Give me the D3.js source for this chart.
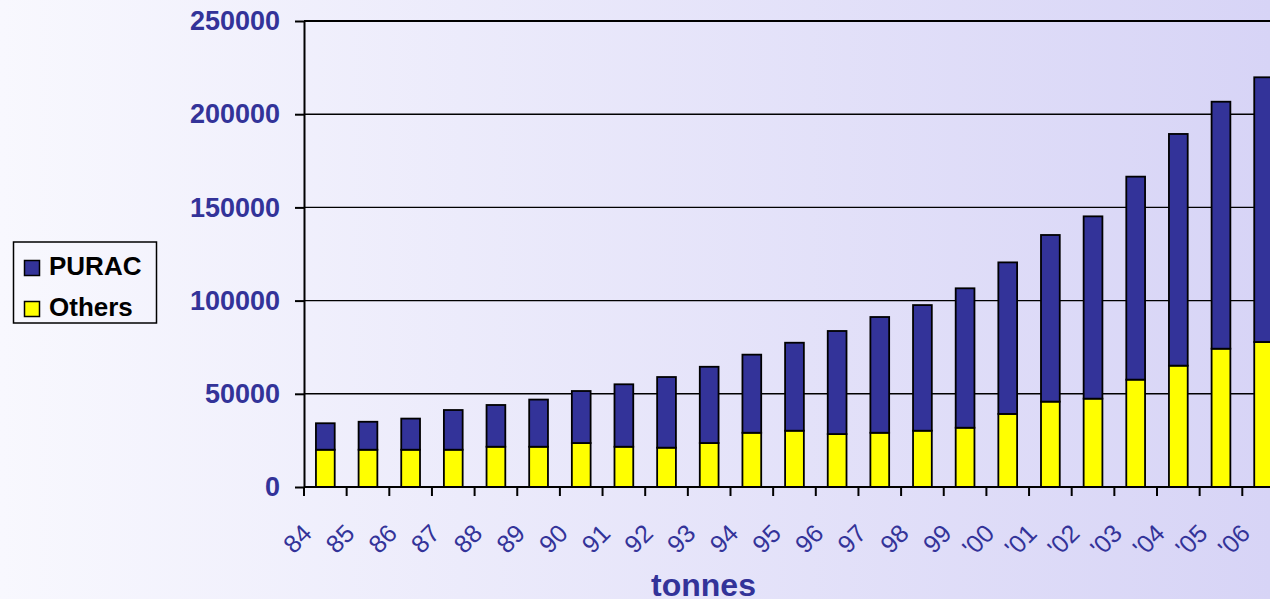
<!DOCTYPE html>
<html>
<head>
<meta charset="utf-8">
<script src="https://cdn.jsdelivr.net/npm/d3@7"></script>
<style>
  html, body { margin: 0; padding: 0; overflow: hidden; }
  svg { display: block; font-family: "Liberation Sans", Arial, sans-serif; }
</style>
</head>
<body>
<svg id="chart" width="1270" height="599"></svg>
<script>
// ---- data ----
const categories = ["84","85","86","87","88","89","90","91","92","93","94","95","96","97","98","99","'00","'01","'02","'03","'04","'05","'06"];
const others = [20000,20000,20000,20000,21600,21600,23600,21600,21100,23600,29100,30200,28400,29100,30200,31800,39200,45800,47400,57600,65100,74200,77800];
const purac  = [14200,15000,16700,21300,22400,25300,27900,33500,37900,40900,41900,47200,55300,62100,67400,74800,81300,89400,97800,108900,124300,132500,142000];
const yTicks = [0,50000,100000,150000,200000,250000];
const seriesNames = ["PURAC","Others"];
const seriesColors = {PURAC: "#333399", Others: "#FFFF00"};
const axisTitle = "tonnes";

// ---- layout ----
const W = 1270, H = 599;
const plotLeft = 304, plotTop = 21, plotBottom = 487;
const step = 42.65;
const plotRight = plotLeft + step * categories.length;
const textColor = "#333399";

const svg = d3.select("#chart");

// background gradient
const defs = svg.append("defs");
const grad = defs.append("linearGradient").attr("id", "bg").attr("x1", 0).attr("x2", 1).attr("y1", 0).attr("y2", 0);
grad.append("stop").attr("offset", 0).attr("stop-color", "#f8f8fe");
grad.append("stop").attr("offset", 1).attr("stop-color", "#d7d4f6");
svg.append("rect").attr("width", W).attr("height", H).attr("fill", "url(#bg)");

const x = d3.scaleBand().domain(categories).range([plotLeft, plotRight]).paddingInner(0).paddingOuter(0);
const y = d3.scaleLinear().domain([0, 250000]).range([plotBottom, plotTop]);

// gridlines
svg.append("g").selectAll("line").data(yTicks.filter(d => d > 0)).join("line")
  .attr("x1", plotLeft).attr("x2", plotRight)
  .attr("y1", d => y(d)).attr("y2", d => y(d))
  .attr("stroke", "#000").attr("stroke-width", d => d === 250000 ? 2 : 1.4);

// stacked bars
const rows = categories.map((c, i) => ({cat: c, Others: others[i], PURAC: purac[i]}));
const stack = d3.stack().keys(["Others", "PURAC"]);
const stacked = stack(rows);
const barW = x.bandwidth() * 0.44;

svg.append("g").selectAll("g").data(stacked).join("g")
  .attr("fill", d => seriesColors[d.key])
  .selectAll("rect").data(d => d).join("rect")
  .attr("x", d => x(d.data.cat) + (x.bandwidth() - barW) / 2)
  .attr("width", barW)
  .attr("y", d => y(d[1]))
  .attr("height", d => y(d[0]) - y(d[1]))
  .attr("stroke", "#000").attr("stroke-width", 1.8);

// y axis
const yAxis = d3.axisLeft(y).tickValues(yTicks).tickSize(9).tickSizeOuter(0).tickPadding(15).tickFormat(d3.format("d"));
const gy = svg.append("g").attr("transform", `translate(${plotLeft},0)`).call(yAxis);
gy.select(".domain").attr("stroke", "#000").attr("stroke-width", 2);
gy.selectAll(".tick line").attr("stroke", "#000").attr("stroke-width", 2);
gy.selectAll(".tick text")
  .attr("fill", textColor).attr("font-size", 27).attr("font-weight", "bold")
  .attr("font-family", "'Liberation Sans', Arial, sans-serif");

// x axis line and ticks at band boundaries
svg.append("line").attr("x1", plotLeft).attr("x2", plotRight).attr("y1", plotBottom).attr("y2", plotBottom)
  .attr("stroke", "#000").attr("stroke-width", 2);
const bounds = categories.map(c => x(c)).concat([plotRight]);
svg.append("g").selectAll("line").data(bounds).join("line")
  .attr("x1", d => d).attr("x2", d => d).attr("y1", plotBottom).attr("y2", plotBottom + 9)
  .attr("stroke", "#000").attr("stroke-width", 2);

// x tick labels (rotated)
svg.append("g").selectAll("text").data(categories).join("text")
  .attr("transform", d => `translate(${x(d) + x.bandwidth() / 2 - 12},535) rotate(-45)`)
  .attr("text-anchor", "end")
  .attr("fill", textColor).attr("font-size", 25)
  .text(d => d);

// axis title
svg.append("text").attr("x", 703.5).attr("y", 596).attr("text-anchor", "middle")
  .attr("fill", textColor).attr("font-size", 32).attr("font-weight", "bold").text(axisTitle);

// legend
const lg = svg.append("g");
lg.append("rect").attr("x", 13.5).attr("y", 242).attr("width", 143).attr("height", 81)
  .attr("fill", "none").attr("stroke", "#000").attr("stroke-width", 1.5);
const items = lg.selectAll("g").data(seriesNames).join("g")
  .attr("transform", (d, i) => `translate(0,${i * 41})`);
items.append("rect").attr("x", 24.5).attr("y", 260.5).attr("width", 15).attr("height", 15)
  .attr("fill", d => seriesColors[d]).attr("stroke", "#000").attr("stroke-width", 1.5);
items.append("text").attr("x", 49).attr("y", 275).attr("fill", "#000")
  .attr("font-size", 26).attr("font-weight", "bold").text(d => d);
</script>
</body>
</html>
